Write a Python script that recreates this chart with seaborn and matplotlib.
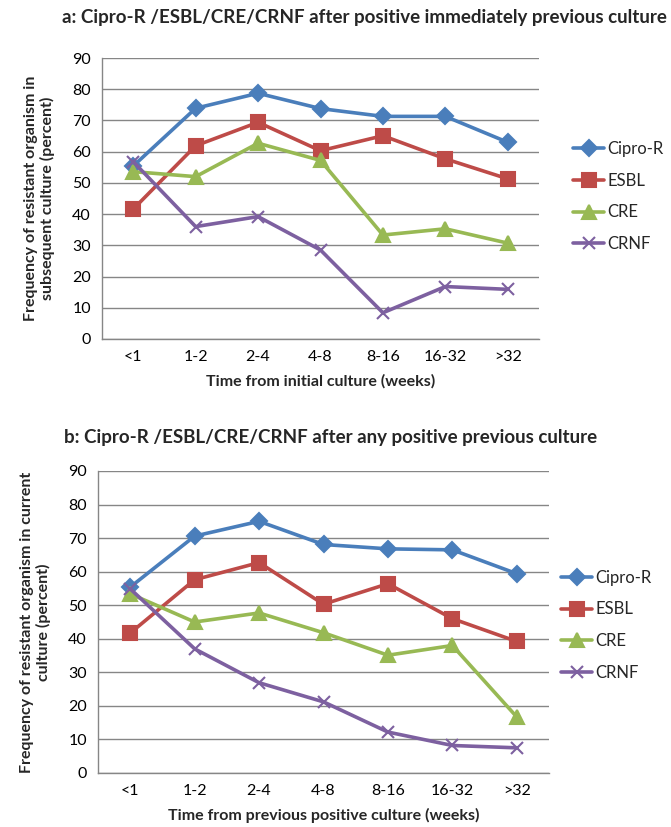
import numpy as np
import pandas as pd
import seaborn as sns
import matplotlib.pyplot as plt

# time bins (weeks)
bins = ['<1', '1-2', '2-4', '4-8', '8-16', '16-32', '>32']
series = ['Cipro-R', 'ESBL', 'CRE', 'CRNF']

# panel a: after positive immediately previous culture
a_cipro = [55.4, 73.9, 78.7, 73.8, 71.3, 71.3, 63.0]
a_esbl = [41.6, 61.9, 69.4, 60.3, 65.1, 57.7, 51.3]
a_cre = [53.6, 52.0, 62.7, 57.2, 33.3, 35.3, 30.7]
a_crnf = [56.8, 36.0, 39.2, 28.5, 8.4, 16.8, 15.9]

# panel b: after any positive previous culture
b_cipro = [55.4, 70.6, 75.0, 68.1, 66.8, 66.5, 59.4]
b_esbl = [41.7, 57.6, 62.7, 50.3, 56.4, 46.0, 39.2]
b_cre = [53.4, 45.0, 47.7, 41.8, 35.1, 38.0, 16.7]
b_crnf = [54.9, 37.0, 26.9, 21.2, 12.2, 8.2, 7.5]

colors = {'Cipro-R': '#4A7EBB', 'ESBL': '#BE4B48', 'CRE': '#98B954', 'CRNF': '#7D60A0'}
markers = {'Cipro-R': 'D', 'ESBL': 's', 'CRE': '^', 'CRNF': 'x'}
msizes = {'Cipro-R': 8, 'ESBL': 10, 'CRE': 10, 'CRNF': 9}


def long_df(vals):
    rows = []
    for name, v in zip(series, vals):
        for b, y in zip(bins, v):
            rows.append({'Time': b, 'Value': y, 'Series': name})
    return pd.DataFrame(rows)


sns.set_style('white')
plt.rcParams['font.family'] = ['Lato', 'DejaVu Sans']

fig = plt.figure(figsize=(6.71, 8.27), dpi=100)
W, H = 671, 827


def add_ax(l, t, r, b):
    return fig.add_axes([l / W, 1 - b / H, (r - l) / W, (b - t) / H])


def draw(ax, df, title, ylabel, xlabel, title_xy, legend_xy):
    for name in series:
        sub = df[df['Series'] == name]
        sns.lineplot(data=sub, x='Time', y='Value', color=colors[name],
                     marker=markers[name], markersize=msizes[name],
                     markeredgecolor=colors[name], markeredgewidth=1.5,
                     linewidth=2.6, sort=False, label=name, ax=ax)
    ax.set_ylim(0, 90)
    ax.set_xlim(-0.5, 6.5)
    ax.set_yticks(range(0, 91, 10))
    ax.yaxis.grid(True, color='#868686', linewidth=1)
    ax.set_axisbelow(True)
    for s in ['top', 'right']:
        ax.spines[s].set_visible(False)
    for s in ['left', 'bottom']:
        ax.spines[s].set_color('#868686')
        ax.spines[s].set_linewidth(1)
    ax.tick_params(axis='both', length=0, labelsize=11.5, colors='black', pad=8)
    ax.set_xlabel(xlabel, fontsize=11.5, fontweight='bold', labelpad=7)
    ax.set_ylabel(ylabel, fontsize=11.5, fontweight='bold', labelpad=12)
    h, l = ax.get_legend_handles_labels()
    ax.legend(h, l, loc='upper left', bbox_to_anchor=(legend_xy[0] / W, 1 - legend_xy[1] / H),
              bbox_transform=fig.transFigure, frameon=False, fontsize=12,
              handlelength=1.9, handletextpad=0.2, labelspacing=0.95, borderaxespad=0)
    fig.text(title_xy[0] / W, 1 - title_xy[1] / H, title, fontsize=13.5,
             fontweight='bold', va='center', ha='left')


ax1 = add_ax(102, 58, 539, 339)
draw(ax1, long_df([a_cipro, a_esbl, a_cre, a_crnf]),
     'a: Cipro-R /ESBL/CRE/CRNF after positive immediately previous culture',
     'Frequency of resistant organism in\nsubsequent culture (percent)',
     'Time from initial culture (weeks)', (62, 17), (566, 134))

ax2 = add_ax(98, 471, 549, 773)
draw(ax2, long_df([b_cipro, b_esbl, b_cre, b_crnf]),
     'b: Cipro-R /ESBL/CRE/CRNF after any positive previous culture',
     'Frequency of resistant organism in current\nculture (percent)',
     'Time from previous positive culture (weeks)', (64, 438), (554, 563))

fig.savefig('out.png', dpi=100)
